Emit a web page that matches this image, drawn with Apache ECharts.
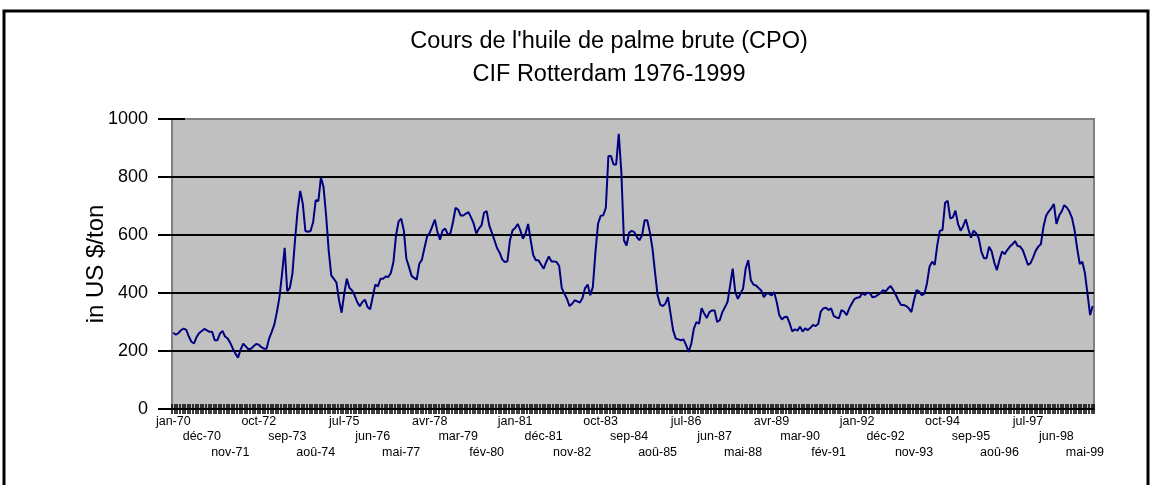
<!DOCTYPE html>
<html>
<head>
<meta charset="utf-8">
<title>Cours CPO</title>
<script src="https://cdn.jsdelivr.net/npm/echarts@6/dist/echarts.min.js"></script>
<style>
	html, body { margin: 0; padding: 0; background: #fff; }
	#ECpo { width: 1152px; height: 485px; }
</style>
</head>
<body>
<div id="ECpo"></div>
<script>
// noms des mois, annees couvertes
var monthNames = ['jan', 'fév', 'mar', 'avr', 'mai', 'jun', 'jul', 'aoû', 'sep', 'oct', 'nov', 'déc'];
var firstYear = 1970;

// prix mensuels en US $/ton
var cpo1970_74 = [263, 256, 262, 272, 277, 273, 250, 232, 226, 248, 262, 269, 276, 271, 266, 266, 237, 237, 260, 269,
	250, 243, 228, 208, 191, 177, 205, 225, 216, 206, 208, 216, 224, 222, 213, 208, 208, 243, 266, 291,
	334, 386, 467, 556, 406, 418, 467, 582, 685, 752, 708, 614, 611, 614, 645, 720, 717, 798, 766];
var cpo1974_79 = [668, 547, 461, 449, 436, 375, 332, 398, 449, 418, 409, 392, 369, 354, 369, 377, 352, 344, 386, 429,
	423, 449, 449, 457, 455, 469, 507, 599, 647, 656, 616, 518, 490, 459, 452, 446, 501, 515, 556, 595,
	607, 630, 653, 610, 584, 616, 622, 602, 605, 645, 694, 687, 667, 667, 674, 679, 660, 639, 605, 622];
var cpo1979_84 = [633, 677, 682, 633, 608, 582, 555, 539, 516, 507, 509, 582, 616, 624, 638, 616, 587, 605, 638, 582,
	530, 513, 513, 498, 484, 507, 526, 509, 509, 507, 493, 417, 398, 380, 355, 363, 375, 371, 367, 383,
	417, 429, 392, 421, 541, 639, 666, 668, 693, 872, 872, 843, 843, 949, 817, 582, 564, 608, 614];
var cpo1984_89 = [610, 593, 582, 599, 651, 651, 610, 555, 472, 392, 360, 355, 363, 386, 329, 271, 243, 240, 237, 240,
	220, 197, 225, 277, 300, 294, 348, 329, 314, 334, 340, 340, 300, 306, 334, 351, 369, 426, 484, 403,
	380, 398, 415, 484, 513, 444, 429, 426, 417, 409, 386, 398, 398, 392, 403, 369, 323, 309, 317, 318, 295];
var cpo1989_94 = [267, 275, 270, 284, 267, 278, 272, 280, 290, 286, 293, 336, 347, 349, 341, 347, 321, 316, 313, 341,
	336, 324, 347, 364, 379, 384, 385, 399, 393, 401, 399, 385, 387, 393, 399, 410, 405, 416, 424, 410,
	393, 374, 359, 359, 355, 347, 334, 376, 410, 405, 393, 397, 433, 491, 508, 497, 566, 615];
var cpo1994_99 = [617, 711, 718, 657, 661, 684, 638, 615, 631, 654, 620, 591, 615, 606, 589, 543, 520, 520, 560, 543,
	505, 479, 514, 543, 534, 548, 560, 568, 579, 562, 560, 548, 523, 497, 503, 523, 546, 560, 569, 629,
	666, 681, 692, 707, 638, 666, 681, 703, 695, 681, 659, 617, 554, 500, 508, 468, 397, 324, 355];

var yTicks = [0, 200, 400, 600, 800, 1000];

var cpoPrices = [].concat(cpo1970_74, cpo1974_79, cpo1979_84, cpo1984_89, cpo1989_94, cpo1994_99);
var months = [];
for (var i = 0; i < cpoPrices.length; i++) {
	var yy = (firstYear + Math.floor(i / 12)) % 100;
	months.push(monthNames[i % 12] + '-' + (yy < 10 ? '0' + yy : yy));
}

var cpoECharts = echarts.init(document.getElementById('ECpo'));

var labelFont = { fontFamily: 'Liberation Sans', fontSize: 12.5, color: '#000' };

// un axe categorie par rangee d'etiquettes (une etiquette tous les 11 mois, sur 3 rangees)
function rowAxis(row, showLine) {
	return {
		type: 'category',
		data: months,
		position: 'bottom',
		boundaryGap: true,
		axisLine: { show: showLine, lineStyle: { color: '#000', width: 1 } },
		axisTick: { show: false },
		axisLabel: Object.assign({
			interval: function (idx) { return idx % 33 === row * 11; },
			showMinLabel: row === 0 ? true : null,
			margin: 6 + row * 15.5
		}, labelFont),
		splitLine: { show: false }
	};
}

// graduations mensuelles, croisees de part et d'autre de l'axe
function tickAxis(inside) {
	return {
		type: 'value',
		position: 'bottom',
		min: 0,
		max: cpoPrices.length,
		interval: 1,
		axisLine: { show: false },
		axisTick: { show: true, inside: inside, length: 5, lineStyle: { color: '#000', width: 1.5 } },
		axisLabel: { show: false },
		splitLine: { show: false }
	};
}

var option = {
	animation: false,
	title: {
		text: "Cours de l'huile de palme brute (CPO)\nCIF Rotterdam 1976-1999",
		left: 604,
		top: 20,
		textAlign: 'center',
		textStyle: {
			fontFamily: 'Liberation Sans',
			fontSize: 23.5,
			fontWeight: 'normal',
			color: '#000',
			lineHeight: 33
		}
	},
	graphic: [{
		type: 'rect',
		shape: { x: 4, y: 11, width: 1144, height: 520 },
		style: { fill: null, stroke: '#000', lineWidth: 3 },
		silent: true
	}],
	grid: {
		left: 172,
		right: 58,
		top: 119,
		bottom: 76,
		show: true,
		backgroundColor: '#c0c0c0',
		borderColor: '#808080',
		borderWidth: 2
	},
	xAxis: [rowAxis(0, true), rowAxis(1, false), rowAxis(2, false), tickAxis(false), tickAxis(true)],
	yAxis: [{
		type: 'value',
		min: yTicks[0],
		max: yTicks[yTicks.length - 1],
		interval: 200,
		name: 'in US $/ton',
		nameLocation: 'middle',
		nameGap: 64,
		nameMoveOverlap: false,
		nameTextStyle: { fontFamily: 'Liberation Sans', fontSize: 24, color: '#000' },
		axisLine: { show: false },
		axisTick: { show: true, length: 14, lineStyle: { color: '#000', width: 2 } },
		axisLabel: {
			margin: 24,
			fontFamily: 'Liberation Sans',
			fontSize: 18,
			color: '#000',
			formatter: function (v) { return String(v); }
		},
		splitLine: {
			lineStyle: {
				color: ['#000', '#000', '#000', '#000', '#000', '#808080'],
				width: 2
			}
		}
	}, {
		type: 'value',
		position: 'left',
		min: yTicks[0],
		max: yTicks[yTicks.length - 1],
		interval: 200,
		axisLine: { show: false },
		axisTick: { show: true, inside: true, length: 13, lineStyle: { color: '#000', width: 2 } },
		axisLabel: { show: false },
		splitLine: { show: false }
	}],
	series: [{
		name: 'CPO',
		type: 'line',
		xAxisIndex: 0,
		yAxisIndex: 0,
		data: cpoPrices,
		showSymbol: false,
		symbol: 'none',
		lineStyle: { color: '#000080', width: 2 },
		z: 5
	}]
};

cpoECharts.setOption(option);

window.onresize = function () {
	cpoECharts.resize();
};
</script>
</body>
</html>
